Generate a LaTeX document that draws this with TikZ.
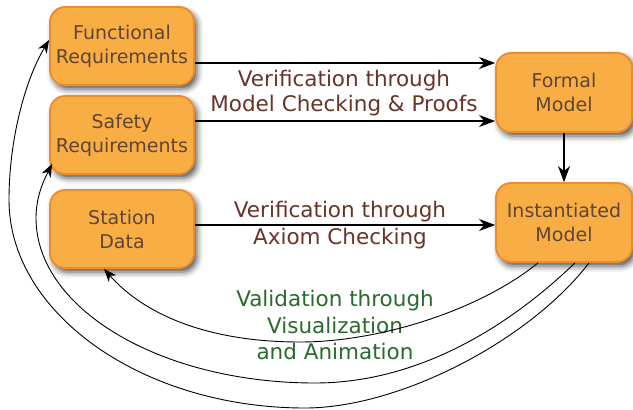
\documentclass[tikz,border=0pt]{standalone}
\usepackage{fontspec}
\setmainfont{DejaVu Sans}
\usepackage{tikz}
\usetikzlibrary{arrows.meta, shadows.blur}

\definecolor{boxfill}{HTML}{F9AD45}
\definecolor{boxline}{HTML}{EE8B2B}
\definecolor{boxtext}{HTML}{5E4636}
\definecolor{labtext}{HTML}{6A3327}
\definecolor{valtext}{HTML}{2A6A2E}

\begin{document}
\begin{tikzpicture}[x=1pt,y=-1pt,
	box/.style={draw=boxline, line width=1.8pt, fill=boxfill, rounded corners=15pt,
		minimum width=144pt, minimum height=78pt, align=center, text=boxtext,
		font=\fontsize{19}{24}\selectfont,
		blur shadow={shadow xshift=3pt, shadow yshift=-4pt, shadow blur radius=6pt, shadow opacity=70}},
	rbox/.style={box, minimum width=136pt, minimum height=79pt},
	lab/.style={align=center, text=labtext, font=\fontsize{21.5}{25.5}\selectfont},
	backarc/.style={-{Stealth[length=13pt, width=10pt, inset=4pt]}, line width=0.9pt},
	>={Stealth[length=16pt, width=12pt, inset=5pt]}]
	\useasboundingbox (0,0) rectangle (633,410);
	\node[box] (0) at (122,46) {Functional\\Requirements};
	\node[box] (1) at (122,135) {Safety\\Requirements};
	\node[box] (2) at (122,229) {Station\\Data};
	\node[rbox] (3) at (564,92.5) {Formal\\Model};
	\node[rbox] (4) at (564,222.5) {Instantiated\\Model};
	\node[lab] (5) at (344,93) {Verification through\\Model Checking \& Proofs};
	\node[lab, font=\fontsize{21.5}{27}\selectfont] (6) at (340,225) {Verification through\\Axiom Checking};
	\node[lab, text=valtext, font=\fontsize{21.5}{26.5}\selectfont] (7) at (335,325) {Validation through\\Visualization\\and Animation};
	\draw [->, line width=1.2pt] ([yshift=-17pt]0.east) to ([yshift=-17pt]0.east -| 3.west);
	\draw [->, line width=1.2pt] ([yshift=14pt]1.east) to ([yshift=14pt]1.east -| 3.west);
	\draw [->, line width=1.2pt] ([yshift=4pt]2.east) to ([yshift=4pt]2.east -| 4.west);
	\draw [->, line width=1.2pt] (3) to (4);
	% three validation arcs back to the inputs
	\draw [backarc] ([xshift=-26pt]4.south) .. controls (480,310) and (380,342) .. (300,342)
		.. controls (200,342) and (140,310) .. ([xshift=-18pt]2.south);
	\draw [backarc] ([xshift=11pt]4.south) .. controls (500,335) and (410,383) .. (315,383)
		.. controls (161,383) and (36,309) .. (36,218)
		.. controls (36,195) and (45,178) .. ([xshift=3pt,yshift=11pt]1.south west);
	\draw [backarc] ([xshift=25pt]4.south) .. controls (530,340) and (400,408) .. (305,408)
		.. controls (142,408) and (9,313) .. (9,200)
		.. controls (9,140) and (25,80) .. ([yshift=6pt]0.west);
\end{tikzpicture}
\end{document}
